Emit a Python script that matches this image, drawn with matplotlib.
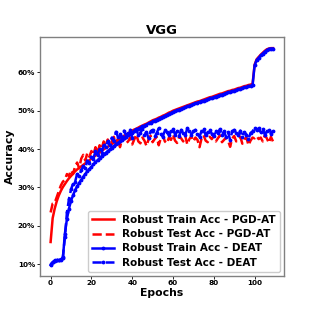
import matplotlib
matplotlib.use("Agg")
import matplotlib.pyplot as plt
from matplotlib.ticker import FuncFormatter

epochs = list(range(110))

train_pgd = [15.8, 22.0, 24.5, 26.4, 27.9, 29.1, 30.1, 30.9, 31.7, 32.4,
             33.0, 33.6, 34.2, 34.7, 35.1, 35.5, 35.9, 36.3, 36.7, 37.1,
             37.5, 37.9, 38.3, 38.7, 39.1, 39.5, 39.9, 40.3, 40.6, 41.0,
             41.3, 41.7, 42.0, 42.4, 42.7, 43.0, 43.4, 43.8, 44.1, 44.5,
             44.8, 45.1, 45.3, 45.6, 45.9, 46.1, 46.4, 46.6, 46.9, 47.2,
             47.5, 47.7, 47.9, 48.2, 48.4, 48.7, 48.9, 49.2, 49.5, 49.7,
             50.0, 50.2, 50.4, 50.6, 50.8, 51.0, 51.2, 51.4, 51.6, 51.8,
             52.0, 52.2, 52.4, 52.5, 52.7, 52.9, 53.1, 53.3, 53.5, 53.6,
             53.8, 54.0, 54.2, 54.4, 54.5, 54.7, 54.9, 55.1, 55.2, 55.4,
             55.5, 55.7, 55.9, 56.0, 56.2, 56.4, 56.5, 56.7, 56.8, 57.0,
             62.0, 63.4, 64.0, 64.6, 65.1, 65.6, 66.0, 66.2, 66.3, 66.3]

test_pgd = [23.5, 25.8, 26.0, 27.5, 29.0, 30.5, 31.5, 32.0, 33.5, 33.0,
            34.5, 33.5, 35.5, 36.5, 35.0, 37.5, 38.5, 37.0, 39.0, 38.0,
            39.5, 38.5, 40.5, 39.0, 41.0, 40.0, 42.0, 41.0, 42.5, 40.8,
            42.0, 43.2, 41.0, 42.8, 40.5, 42.5, 43.5, 41.5, 42.0, 43.0,
            41.2, 42.5, 43.8, 42.0, 41.5, 43.0, 42.2, 40.8, 42.5, 43.5,
            41.8, 42.6, 43.2, 41.0, 42.8, 43.6, 42.0, 41.5, 43.0, 42.4,
            43.8, 42.2, 41.6, 43.2, 42.8, 42.0, 43.5, 41.2, 42.6, 43.4,
            42.0, 43.0, 42.4, 40.5, 42.8, 43.6, 42.2, 41.8, 43.2, 42.6,
            43.4, 42.0, 42.8, 43.6, 41.8, 42.4, 43.0, 42.2, 40.6, 42.8,
            43.4, 42.0, 42.6, 43.2, 41.4, 42.6, 43.0, 41.0, 42.2, 43.0,
            42.8, 43.4, 42.6, 43.0, 42.0, 43.6, 42.8, 41.6, 43.2, 42.0]

train_deat = [9.8, 10.5, 10.8, 11.0, 11.0, 11.2, 11.5, 18.0, 21.8, 24.5,
              26.5, 28.0, 29.3, 30.3, 31.2, 32.0, 32.8, 33.5, 34.2, 34.8,
              35.4, 36.0, 36.6, 37.1, 37.6, 38.1, 38.6, 39.0, 39.5, 39.9,
              40.4, 40.8, 41.2, 41.6, 42.0, 42.4, 42.8, 43.2, 43.6, 43.9,
              44.3, 44.6, 45.0, 45.3, 45.6, 45.9, 46.1, 46.4, 46.7, 46.9,
              47.2, 47.4, 47.7, 47.9, 48.2, 48.4, 48.7, 48.9, 49.2, 49.4,
              49.7, 49.9, 50.1, 50.3, 50.5, 50.7, 50.9, 51.1, 51.3, 51.5,
              51.7, 51.9, 52.1, 52.3, 52.5, 52.6, 52.8, 53.0, 53.2, 53.3,
              53.5, 53.7, 53.9, 54.1, 54.2, 54.4, 54.6, 54.8, 54.9, 55.1,
              55.2, 55.4, 55.6, 55.7, 55.9, 56.1, 56.2, 56.4, 56.5, 56.6,
              61.8, 63.2, 63.8, 64.4, 64.9, 65.4, 65.8, 66.1, 66.2, 66.2]

test_deat = [10.0, 10.5, 11.0, 11.0, 11.2, 11.3, 11.8, 17.0, 23.5, 27.0,
             29.5, 31.0, 31.5, 33.5, 33.0, 34.5, 35.5, 35.0, 37.0, 36.5,
             38.0, 37.5, 39.5, 38.5, 40.0, 39.0, 41.0, 40.5, 42.0, 41.0,
             43.0, 42.0, 44.5, 43.2, 44.0, 42.5, 44.8, 43.5, 44.2, 45.0,
             43.0, 44.6, 45.2, 43.6, 44.2, 45.5, 43.8, 44.4, 42.8, 44.6,
             45.0, 43.4, 44.2, 45.4, 44.0, 43.2, 45.0, 44.4, 43.6, 44.8,
             45.2, 43.8, 44.6, 43.4, 45.0, 44.2, 43.6, 45.4, 44.8, 43.8,
             44.6, 45.0, 44.0, 43.2, 44.8, 45.2, 43.6, 44.4, 45.0, 44.0,
             43.4, 44.8, 44.2, 45.2, 43.6, 44.6, 43.2, 44.4, 42.4, 44.6,
             45.0, 44.2, 43.6, 44.8, 43.2, 44.4, 43.8, 42.6, 44.2, 44.6,
             45.6, 45.0, 45.4, 44.4, 45.2, 43.8, 44.6, 45.0, 44.0, 44.8]

fig = plt.figure(figsize=(3.16, 3.16), dpi=100)
ax = fig.add_axes([0.125, 0.127, 0.774, 0.755])

ax.plot(epochs, train_pgd, color='red', lw=1.8, ls='-', label='Robust Train Acc - PGD-AT')
ax.plot(epochs, test_pgd, color='red', lw=1.8, ls='--', label='Robust Test Acc - PGD-AT')
ax.plot(epochs, train_deat, color='blue', lw=1.8, ls='-', marker='.', ms=3.5, label='Robust Train Acc - DEAT')
ax.plot(epochs, test_deat, color='blue', lw=1.8, ls='--', marker='.', ms=3.5, label='Robust Test Acc - DEAT')

ax.yaxis.set_major_formatter(FuncFormatter(lambda v, p: f"{v:.0f}%"))
ax.set_yticks([10, 20, 30, 40, 50, 60])
ax.set_xticks([0, 20, 40, 60, 80, 100])
for lab in ax.get_xticklabels() + ax.get_yticklabels():
    lab.set_fontweight('bold')
ax.tick_params(labelsize=5.2, length=2, width=0.6, pad=1.2)
for s in ax.spines.values():
    s.set_color('#808080')
    s.set_linewidth(1.0)

ax.set_title('VGG', fontsize=9.5, fontweight='bold', pad=2)
ax.set_xlabel('Epochs', fontsize=7.8, fontweight='bold', labelpad=1)
ax.set_ylabel('Accuracy', fontsize=7.8, fontweight='bold', labelpad=2)

leg = ax.legend(loc='lower right', prop={'size': 7.5, 'weight': 'bold'},
                handlelength=2.1, borderaxespad=0.4, labelspacing=0.4,
                framealpha=1.0)
leg.get_frame().set_edgecolor('#cccccc')

fig.savefig('out.png', dpi=100)
